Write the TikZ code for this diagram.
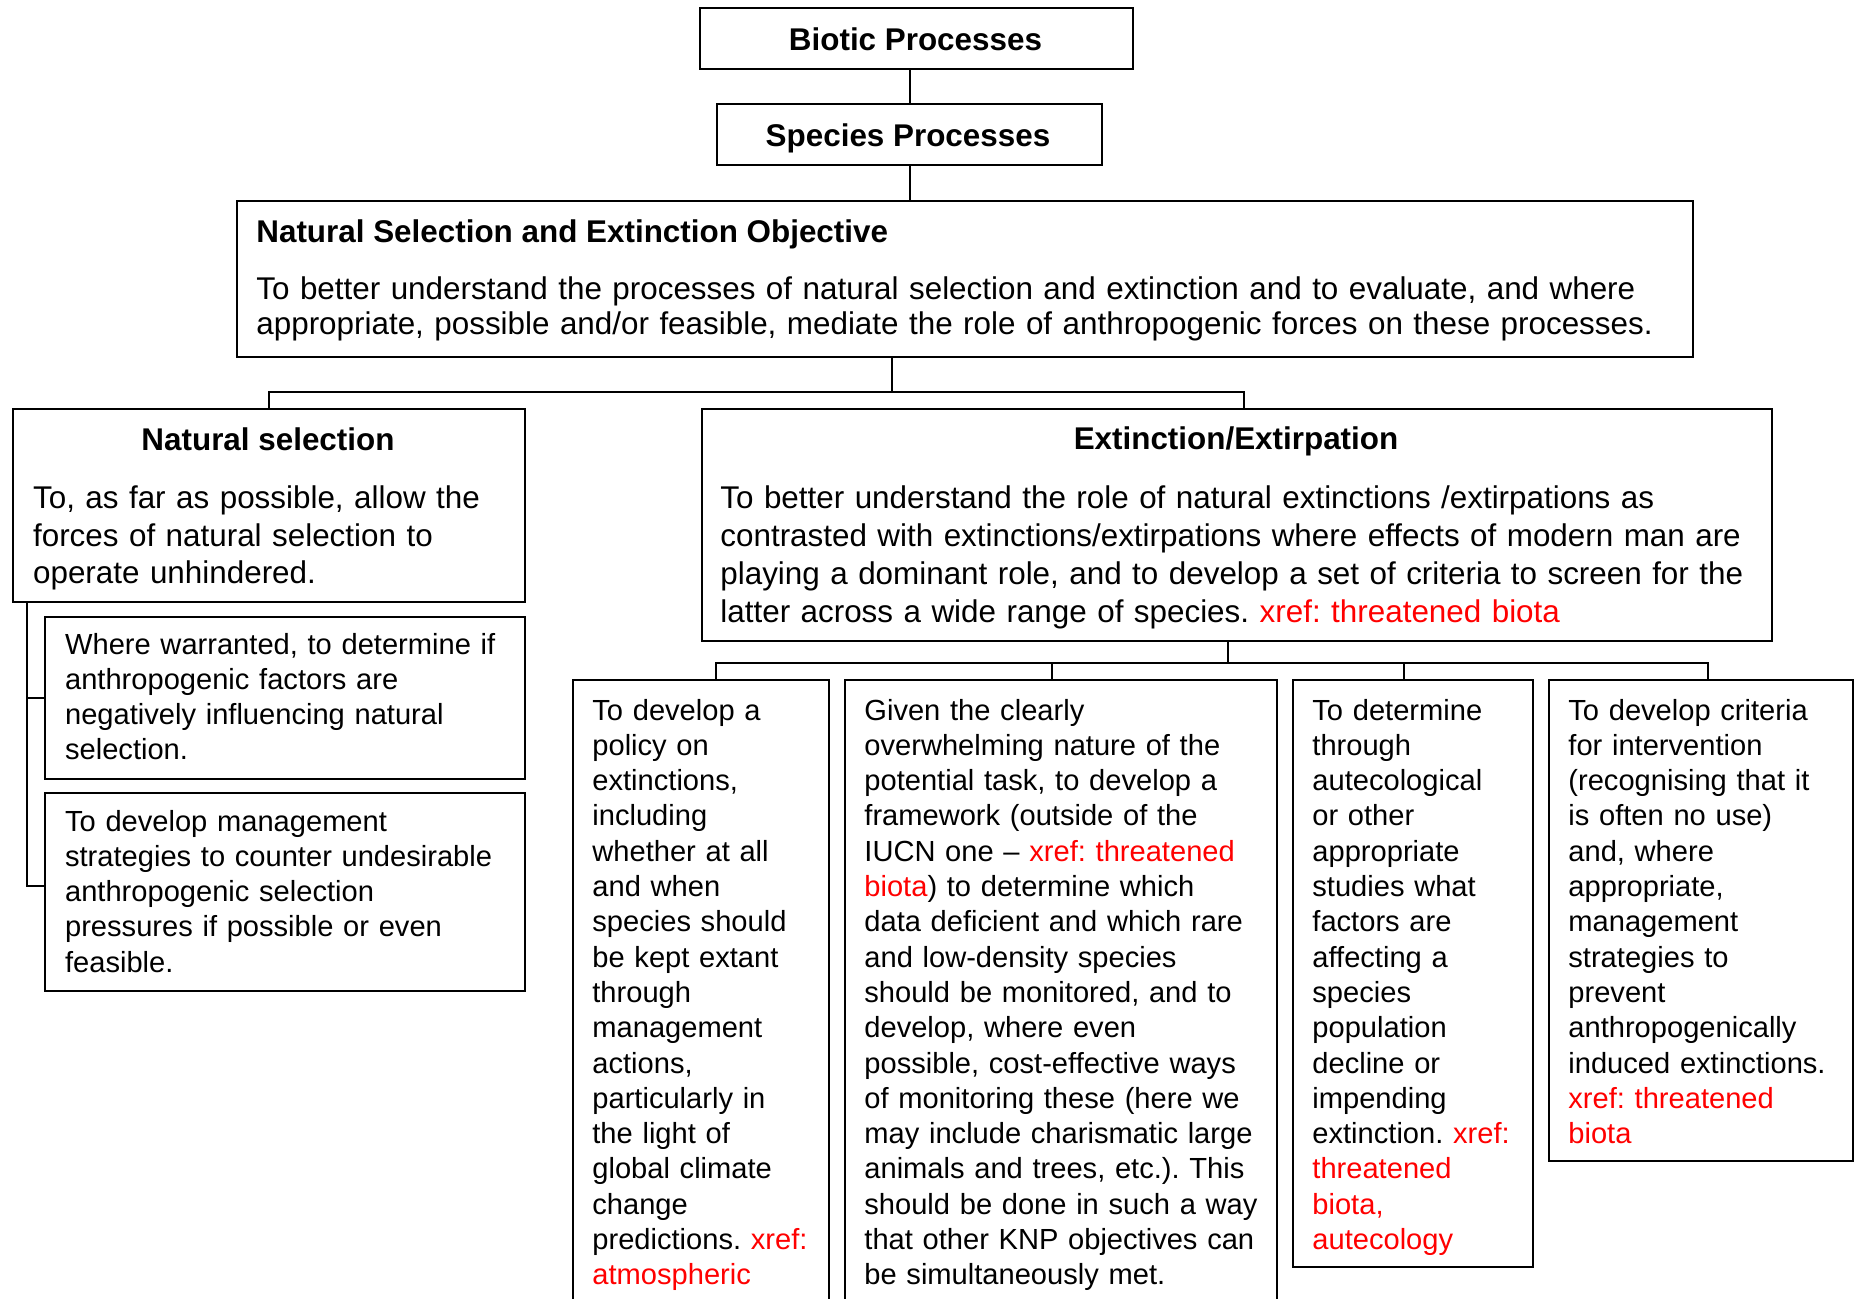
\documentclass[tikz,border=0pt]{standalone}
\usepackage{fontspec}
\setmainfont{Liberation Sans}
\frenchspacing
\newcommand\xr[1]{\textcolor{red}{#1}}
\tikzset{
  box/.style={draw, line width=1.1pt, inner sep=0pt, anchor=north west},
  link/.style={line width=1.1pt},
  ttl/.style={inner sep=0pt, anchor=base, font=\fontsize{15.7pt}{18pt}\selectfont\bfseries},
  bodytxt/.style 2 args={inner sep=0pt, anchor=base west, align=left, text width=#1, font=\fontsize{15.7pt}{#2}\selectfont\frenchspacing},
  smalltxt/.style={inner sep=0pt, anchor=base west, align=left, text width=300pt, font=\fontsize{14.55pt}{17.65pt}\selectfont\frenchspacing},
}
\begin{document}
\begin{tikzpicture}[x=0.5pt,y=-0.5pt]
\useasboundingbox (0,0) rectangle (1858,1298);
\clip (0,0) rectangle (1858,1298);

% boxes
\node[box, minimum width=216.5pt, minimum height=30.5pt] (bio) at (699,7) {};
\node[box, minimum width=192.5pt, minimum height=30.5pt] (spe) at (716,103) {};
\node[box, minimum width=728pt, minimum height=78pt] (obj) at (236,200) {};
\node[box, minimum width=256pt, minimum height=96.5pt] (ns) at (12,408) {};
\node[box, minimum width=535pt, minimum height=116pt] (ext) at (701,408) {};
\node[box, minimum width=240pt, minimum height=81pt] (s1) at (44,616) {};
\node[box, minimum width=240pt, minimum height=99pt] (s2) at (44,792) {};
\node[box, minimum width=128pt, minimum height=320.5pt] (b1) at (572,679) {};
\node[box, minimum width=216pt, minimum height=320.5pt] (b2) at (844,679) {};
\node[box, minimum width=120pt, minimum height=293.5pt] (b3) at (1292,679) {};
\node[box, minimum width=152pt, minimum height=240.5pt] (b4) at (1548,679) {};

% texts
\node[ttl] (biot) at (915.5,50) {Biotic Processes};
\node[ttl] (spet) at (908,146) {Species Processes};
\node[ttl, anchor=base west] (objt) at (256,242) {Natural Selection and Extinction Objective};
\node[bodytxt={760pt}{17.75pt}] (objb) at (256,299) {To better understand the processes of natural selection and extinction and to evaluate, and where\\appropriate, possible and/or feasible, mediate the role of anthropogenic forces on these processes.};
\node[ttl] (nst) at (268,450) {Natural selection};
\node[bodytxt={300pt}{18.75pt}] (nsb) at (32.7,508.5) {To, as far as possible, allow the\\forces of natural selection to\\operate unhindered.};
\node[ttl] (extt) at (1236,449) {Extinction/Extirpation};
\node[bodytxt={560pt}{19pt}] (extb) at (720,508) {To better understand the role of natural extinctions /extirpations as\\contrasted with extinctions/extirpations where effects of modern man are\\playing a dominant role, and to develop a set of criteria to screen for the\\latter across a wide range of species. \xr{xref: threatened biota}};
\node[smalltxt] (s1t) at (64.7,654) {Where warranted, to determine if\\anthropogenic factors are\\negatively influencing natural\\selection.};
\node[smalltxt] (s2t) at (64.7,831) {To develop management\\strategies to counter undesirable\\anthropogenic selection\\pressures if possible or even\\feasible.};
\node[smalltxt] (b1t) at (592,720) {To develop a\\policy on\\extinctions,\\including\\whether at all\\and when\\species should\\be kept extant\\through\\management\\actions,\\particularly in\\the light of\\global climate\\change\\predictions. \xr{xref:}\\\xr{atmospheric}};
\node[smalltxt] (b2t) at (864,720) {Given the clearly\\overwhelming nature of the\\potential task, to develop a\\framework (outside of the\\IUCN one – \xr{xref: threatened}\\\xr{biota}) to determine which\\data deficient and which rare\\and low-density species\\should be monitored, and to\\develop, where even\\possible, cost-effective ways\\of monitoring these (here we\\may include charismatic large\\animals and trees, etc.). This\\should be done in such a way\\that other KNP objectives can\\be simultaneously met.};
\node[smalltxt] (b3t) at (1312,720) {To determine\\through\\autecological\\or other\\appropriate\\studies what\\factors are\\affecting a\\species\\population\\decline or\\impending\\extinction. \xr{xref:}\\\xr{threatened}\\\xr{biota,}\\\xr{autecology}};
\node[smalltxt] (b4t) at (1568,720) {To develop criteria\\for intervention\\(recognising that it\\is often no use)\\and, where\\appropriate,\\management\\strategies to\\prevent\\anthropogenically\\induced extinctions.\\\xr{xref: threatened}\\\xr{biota}};

% connectors
\draw[link] (spe.north) -- (spe.north |- bio.south);
\draw[link] (spe.south) -- (spe.south |- obj.north);
\coordinate (j1) at (892,392);
\coordinate (extT) at (1244,408);
\draw[link] (j1 |- obj.south) -- (j1);
\draw[link] (ns.north) |- (j1) -| (extT);
\coordinate (j2) at (1228,663);
\coordinate (t1) at (716,679);
\coordinate (t2) at (1052,679);
\coordinate (t3) at (1404,679);
\coordinate (t4) at (1708,679);
\draw[link] (j2 |- ext.south) -- (j2);
\draw[link] (t1) |- (j2) -| (t4);
\draw[link] (t2) -- (t2 |- j2);
\draw[link] (t3) -- (t3 |- j2);
\coordinate (br) at (27,601);
\coordinate (k2) at (44,886);
\draw[link] (br) |- (k2);
\draw[link] (s1.west) -- (s1.west -| br);
\end{tikzpicture}
\end{document}
